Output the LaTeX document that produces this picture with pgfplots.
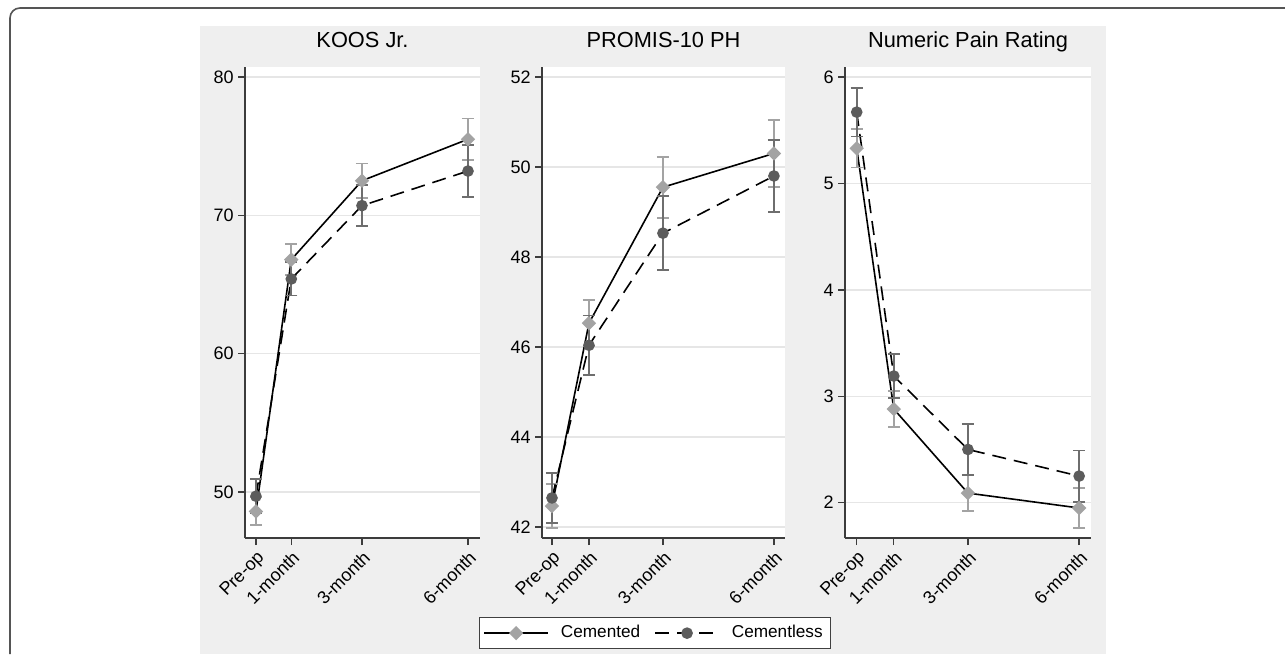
\documentclass[border=0pt]{standalone}
\usepackage{fontspec}
\setmainfont{Liberation Sans}
\usepackage{pgfplots}
\pgfplotsset{compat=1.18}

\definecolor{panelbg}{HTML}{EFEFEF}
\definecolor{cemc}{HTML}{A3A3A3}
\definecolor{unc}{HTML}{5C5C5C}
\definecolor{unerr}{HTML}{6E6E6E}
\definecolor{gridc}{HTML}{E6E6E6}
\definecolor{axc}{HTML}{3C3C3C}
\definecolor{framec}{HTML}{555555}

\newcommand{\tickfont}{\fontsize{9}{11}\selectfont}

\pgfplotsset{
  panel/.style={
    scale only axis, height=235.5pt,
    axis background/.style={fill=white},
    axis x line*=bottom, axis y line*=left,
    axis line style={axc, line width=0.7pt},
    every tick/.style={axc, line width=0.7pt},
    tick align=outside, major tick length=3.5pt,
    xtick={0,1,3,6}, xticklabels={Pre-op,1-month,3-month,6-month},
    x tick label style={rotate=45, anchor=north east, font=\tickfont, inner sep=1.5pt},
    y tick label style={font=\tickfont, inner sep=2pt},
    /pgf/number format/assume math mode=true,
    ymajorgrids, grid style={gridc, line width=0.7pt},
    title style={at={(0.5,1)}, anchor=base, yshift=3.5pt, font=\fontsize{10.9}{13}\selectfont},
  },
  cem/.style={black, line width=0.8pt, mark=square*, mark size=2.15pt,
    mark options={solid, rotate=45, fill=cemc, draw=cemc},
    error bars/.cd, y dir=both, y explicit,
    error bar style={solid, cemc, line width=0.9pt},
    error mark options={rotate=90, cemc, mark size=3pt, line width=0.9pt}},
  unl/.style={black, line width=0.8pt, dash pattern=on 7pt off 4pt, mark=*, mark size=2.5pt,
    mark options={solid, fill=unc, draw=unc},
    error bars/.cd, y dir=both, y explicit,
    error bar style={solid, unerr, line width=0.9pt},
    error mark options={rotate=90, unerr, mark size=3pt, line width=0.9pt}},
}

\begin{document}
\begin{tikzpicture}
\useasboundingbox (0,0) rectangle (642.5pt,327pt);
\fill[white] (0,0) rectangle (642.5pt,327pt);
\fill[panelbg] (100pt,0) rectangle (553pt,314pt);
\draw[framec, line width=0.8pt] (5pt,0) -- (5pt,318pt) arc[start angle=180, end angle=90, radius=5pt] -- (642.5pt,323pt);

% KOOS Jr.
\begin{axis}[panel, at={(122.5pt,58pt)}, anchor=south west, width=117.5pt,
  xmin=-0.31, xmax=6.34, ymin=46.68, ymax=80.72, ytick={50,60,70,80},
  title={KOOS Jr.}]
\addplot[cem] coordinates {(0,48.6) +- (0,1.0) (1,66.8) +- (0,1.1) (3,72.5) +- (0,1.25) (6,75.5) +- (0,1.5)};
\addplot[unl] coordinates {(0,49.7) +- (0,1.25) (1,65.4) +- (0,1.2) (3,70.7) +- (0,1.5) (6,73.2) +- (0,1.9)};
\end{axis}

% PROMIS-10 PH
\begin{axis}[panel, at={(271pt,58pt)}, anchor=south west, width=121.5pt,
  xmin=-0.27, xmax=6.30, ymin=41.76, ymax=52.22, ytick={42,44,46,48,50,52},
  title={PROMIS-10 PH},
  legend style={at={(0.465,-0.202)}, anchor=center, draw=black!75, line width=0.6pt,
    fill=white, font=\fontsize{8.6}{10}\selectfont, inner xsep=2pt, inner ysep=2pt,
    /tikz/every odd column/.append style={column sep=4pt},
    /tikz/every even column/.append style={column sep=5pt}},
  legend columns=2,
  legend image code/.code={\draw[mark repeat=2, mark phase=2, #1] plot coordinates {(0pt,0pt) (16pt,0pt) (32pt,0pt)};}]
\addplot[cem] coordinates {(0,42.47) +- (0,0.49) (1,46.53) +- (0,0.51) (3,49.55) +- (0,0.68) (6,50.3) +- (0,0.74)};
\addlegendentry{Cemented}
\addplot[unl] coordinates {(0,42.65) +- (0,0.55) (1,46.04) +- (0,0.66) (3,48.53) +- (0,0.82) (6,49.8) +- (0,0.8)};
\addlegendentry{Cementless}
\end{axis}

% Numeric Pain Rating
\begin{axis}[panel, at={(422.5pt,58pt)}, anchor=south west, width=123pt,
  xmin=-0.316, xmax=6.32, ymin=1.668, ymax=6.094, ytick={2,3,4,5,6},
  title={Numeric Pain Rating}]
\addplot[cem] coordinates {(0,5.33) +- (0,0.18) (1,2.88) +- (0,0.17) (3,2.09) +- (0,0.17) (6,1.95) +- (0,0.19)};
\addplot[unl] coordinates {(0,5.67) +- (0,0.23) (1,3.19) +- (0,0.21) (3,2.5) +- (0,0.24) (6,2.25) +- (0,0.24)};
\end{axis}
\end{tikzpicture}
\end{document}
